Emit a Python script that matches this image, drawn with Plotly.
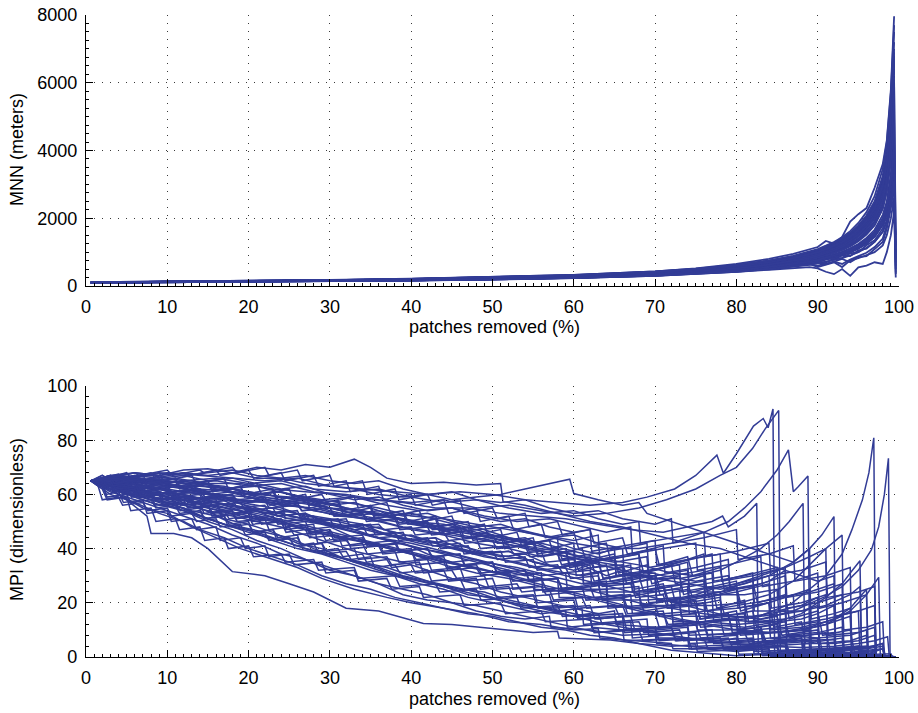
import plotly.graph_objects as go

# ---------------- data: MNN (top panel) ----------------
X_MNN = [0.6, 10, 20, 30, 40, 50, 60, 70, 75, 80, 84, 87, 89, 90, 91, 92, 93, 94, 95, 96, 97, 98, 98.5, 99, 99.4, 99.6]

mnn_01 = [100, 115, 130, 150, 175, 210, 260, 340, 400, 480, 570, 660, 740, 800, 860, 930, 1010, 1100, 1220, 1380, 1600, 2000, 2400, 3200, 4300, None]
mnn_02 = [105, 120, 140, 165, 195, 240, 300, 390, 460, 560, 680, 790, 880, 950, 1030, 1120, 1230, 1370, 1560, 1800, 2150, 2800, 3400, 4600, 6200, None]
mnn_03 = [95, 110, 125, 140, 165, 195, 240, 310, 360, 430, 510, 590, 660, 710, 770, 830, 900, 990, 1100, 1250, 1450, 1800, 2200, 2900, 3800, 900]
mnn_04 = [100, 118, 135, 155, 185, 225, 280, 365, 430, 520, 630, 740, 830, 900, 980, 1070, 1180, 1310, 1480, 1700, 2000, 2600, 3100, 4200, 5600, None]
mnn_05 = [110, 125, 145, 175, 210, 260, 320, 420, 500, 610, 740, 870, 980, 1060, 1150, 1260, 1380, 1540, 1750, 2050, 2450, 3200, 3900, 5300, 7200, None]
mnn_06 = [98, 112, 128, 148, 172, 205, 250, 325, 385, 460, 550, 640, 710, 760, 820, 880, 950, 1040, 1150, 1310, 1520, 1900, 2300, 3000, 4000, None]
mnn_07 = [110, 128, 150, 180, 215, 265, 330, 430, 520, 650, 800, 950, 1080, 1150, 1330, 1250, 1450, 1900, 2120, 2300, 2900, 3600, 4300, 5800, 7965, None]
mnn_08 = [95, 108, 122, 138, 160, 190, 230, 300, 350, 420, 480, 540, 560, 520, 420, 350, 500, 300, 550, 600, 700, 650, 1000, 1500, 2200, 400]
mnn_09 = [100, 115, 132, 152, 180, 215, 265, 345, 410, 495, 600, 700, 790, 850, 910, 990, 1080, 1200, 1350, 1550, 1800, 2300, 2800, 3700, 5000, None]
mnn_10 = [102, 117, 137, 160, 190, 232, 290, 380, 450, 545, 660, 780, 870, 940, 1020, 1110, 1220, 1360, 1540, 1780, 2100, 2700, 3300, 4500, 6000, 1200]
mnn_11 = [97, 111, 127, 146, 170, 202, 248, 320, 378, 452, 540, 625, 690, 740, 790, 850, 920, 1000, 1110, 1260, 1460, 1820, 2150, 2800, 3500, None]
mnn_12 = [100, 116, 134, 156, 186, 222, 276, 360, 425, 512, 620, 720, 810, 870, 940, 1020, 1120, 1240, 1400, 1620, 1920, 2450, 2950, 4000, 5300, None]
mnn_13 = [105, 121, 141, 166, 198, 242, 300, 395, 468, 570, 690, 810, 910, 980, 1060, 1160, 1280, 1430, 1630, 1900, 2260, 2900, 3600, 4900, 6600, None]
mnn_14 = [96, 110, 124, 142, 165, 196, 238, 310, 365, 440, 520, 600, 650, 560, 620, 700, 560, 760, 820, 900, 1000, 1200, 1500, 2000, 2600, 250]
mnn_15 = [100, 114, 130, 150, 176, 210, 258, 335, 395, 475, 570, 665, 745, 800, 860, 930, 1010, 1110, 1240, 1420, 1660, 2100, 2500, 3300, 4500, None]
mnn_16 = [103, 119, 139, 163, 194, 236, 294, 386, 458, 556, 672, 790, 885, 955, 1035, 1130, 1245, 1390, 1580, 1830, 2170, 2800, 3450, 4700, 6400, None]
mnn_17 = [99, 113, 129, 149, 174, 207, 254, 330, 390, 470, 560, 650, 720, 740, 820, 780, 900, 880, 1050, 1100, 1300, 1600, 1900, 2500, 3300, 700]
mnn_18 = [101, 116, 133, 154, 182, 218, 270, 352, 418, 503, 610, 715, 800, 865, 935, 1015, 1110, 1230, 1390, 1600, 1890, 2400, 2900, 3900, 5100, None]
mnn_19 = [104, 120, 140, 164, 196, 238, 296, 390, 462, 562, 680, 800, 895, 965, 1045, 1140, 1260, 1410, 1600, 1860, 2210, 2850, 3500, 4800, 6500, None]
mnn_20 = [97, 111, 126, 145, 168, 200, 244, 316, 372, 450, 530, 610, 680, 690, 640, 720, 800, 700, 850, 880, 1100, 1300, 1700, 2300, 3000, 600]
mnn_21 = [102, 118, 136, 158, 188, 228, 284, 372, 440, 532, 645, 755, 850, 915, 990, 1080, 1190, 1330, 1510, 1750, 2070, 2650, 3200, 4350, 5800, None]
mnn_22 = [108, 124, 145, 172, 206, 254, 316, 415, 494, 600, 728, 855, 960, 1035, 1120, 1225, 1350, 1510, 1720, 2000, 2400, 3100, 3800, 5200, 7000, None]
mnn_23 = [98, 112, 128, 147, 171, 203, 249, 322, 380, 455, 545, 635, 705, 750, 810, 870, 940, 1025, 1140, 1300, 1500, 1850, 2200, 2700, 2100, 1500]
mnn_24 = [106, 122, 143, 169, 202, 248, 308, 405, 480, 583, 705, 830, 930, 1000, 1085, 1185, 1305, 1460, 1660, 1930, 2300, 2980, 3700, 5000, 6800, None]
mnn_25 = [99, 114, 131, 152, 179, 214, 264, 344, 408, 492, 596, 700, 785, 845, 910, 990, 1090, 1210, 1370, 1590, 1880, 2420, 2950, 4000, 5400, None]
mnn_26 = [101, 117, 135, 157, 187, 226, 282, 368, 436, 528, 640, 752, 845, 910, 985, 1075, 1185, 1320, 1500, 1740, 2060, 2650, 3250, 4400, 5900, 800]
mnn_27 = [96, 109, 123, 141, 163, 193, 234, 300, 352, 420, 495, 565, 625, 665, 710, 760, 820, 900, 1000, 1130, 1300, 1600, 1950, 2500, 3200, None]
mnn_28 = [107, 123, 144, 171, 205, 252, 314, 412, 490, 595, 720, 845, 950, 1020, 1105, 1210, 1335, 1490, 1700, 1980, 2360, 3050, 3750, 5100, 6900, None]
mnn_29 = [103, 118, 137, 160, 191, 232, 289, 380, 450, 545, 662, 775, 870, 940, 1015, 1110, 1220, 1355, 1540, 1780, 2110, 2700, 3300, 4500, 6100, None]
mnn_30 = [98, 112, 127, 146, 170, 203, 248, 322, 380, 455, 545, 630, 700, 720, 700, 790, 830, 960, 1000, 1200, 1350, 1700, 2100, 2700, 3600, None]
mnn_31 = [104, 119, 139, 163, 195, 237, 294, 386, 457, 556, 675, 795, 890, 960, 1040, 1135, 1250, 1400, 1590, 1850, 2200, 2840, 3480, 4750, 6400, None]
mnn_32 = [100, 115, 131, 151, 178, 212, 262, 340, 402, 485, 585, 685, 770, 830, 895, 970, 1060, 1170, 1320, 1520, 1790, 2280, 2780, 3700, 4900, 1000]
mnn_33 = [97, 111, 126, 145, 169, 201, 246, 318, 375, 450, 535, 620, 690, 735, 790, 850, 920, 1005, 1120, 1270, 1480, 1850, 2250, 2950, 3900, None]
mnn_34 = [109, 126, 148, 176, 212, 262, 326, 428, 510, 620, 752, 885, 995, 1070, 1160, 1270, 1400, 1570, 1790, 2080, 2500, 3250, 4000, 5500, 7500, None]
mnn_35 = [102, 117, 135, 158, 189, 229, 286, 375, 444, 538, 652, 765, 860, 925, 1000, 1090, 1200, 1340, 1520, 1760, 2080, 2680, 3260, 4420, 5950, None]
mnn_36 = [99, 113, 129, 149, 175, 209, 257, 334, 394, 472, 568, 660, 735, 780, 850, 800, 950, 1000, 1150, 1250, 1500, 1900, 2300, 3100, 4100, 500]
mnn_37 = [105, 121, 141, 166, 199, 243, 302, 398, 472, 575, 697, 820, 920, 990, 1075, 1175, 1295, 1445, 1645, 1910, 2280, 2940, 3620, 4950, 6700, None]
mnn_38 = [101, 116, 134, 156, 185, 223, 277, 362, 429, 518, 628, 735, 826, 890, 962, 1048, 1152, 1280, 1450, 1680, 1990, 2550, 3120, 4220, 5650, None]
mnn_39 = [98, 112, 128, 148, 173, 206, 252, 328, 386, 462, 555, 645, 720, 770, 830, 890, 970, 1060, 1180, 1350, 1570, 1980, 2380, 3100, 4100, None]
mnn_40 = [106, 122, 142, 168, 201, 246, 306, 402, 477, 580, 703, 826, 926, 997, 1080, 1180, 1300, 1455, 1655, 1920, 2290, 2960, 3650, 5000, 6750, None]
mnn_41 = [104, 120, 141, 168, 203, 251, 315, 418, 500, 612, 750, 890, 1010, 1090, 1190, 1300, 1440, 1620, 1860, 2180, 2650, 3450, 4250, 5700, 7700, None]
mnn_42 = [96, 109, 124, 142, 165, 195, 237, 305, 358, 428, 505, 580, 640, 600, 660, 720, 650, 780, 880, 980, 1150, 1400, 1800, 2400, 3100, 350]

MNN_RUNS = [mnn_01, mnn_02, mnn_03, mnn_04, mnn_05, mnn_06, mnn_07, mnn_08, mnn_09, mnn_10,
            mnn_11, mnn_12, mnn_13, mnn_14, mnn_15, mnn_16, mnn_17, mnn_18, mnn_19, mnn_20,
            mnn_21, mnn_22, mnn_23, mnn_24, mnn_25, mnn_26, mnn_27, mnn_28, mnn_29, mnn_30,
            mnn_31, mnn_32, mnn_33, mnn_34, mnn_35, mnn_36, mnn_37, mnn_38, mnn_39, mnn_40,
            mnn_41, mnn_42]

# ---------------- data: MPI (bottom panel), (x %, MPI) pairs ----------------
mpi_f01 = [(0.6,65),(3,62),(5,58),(7.5,52),(8,45.6),(10.8,45.6),(13,44),(15,40),(18,31.5),(22,30),(25,27),(28,24),(32,18),(36,17),(41.5,12.4),(45,12),(50,10.5),(55,9),(58,9.5),(58.2,7),(64.5,6.3),(68,5),(72,2.5),(76,1.5),(80,0.5),(84,1),(84.2,0.2),(99.6,0)]
mpi_f02 = [(0.6,65),(4,60),(7,55),(10,53),(13,48),(16,44),(19,40),(22,37),(26,33),(29,29),(33,25),(37,22),(40,20),(44,18),(48,16),(52,13),(56,12),(60,10),(63,10.5),(63.2,7),(68,6),(72,5),(72.2,3),(76,3),(80,2),(84,3),(84.2,0.5),(90,1),(90.2,0.2),(95,2),(95.2,0.1),(99.6,0)]
mpi_f03 = [(0.6,65),(3,63),(6,60),(9,57),(12,54),(15,50),(18,47),(21,43),(24,40),(27,36),(30,33),(33,30),(36,27),(39,23),(42,21),(45,20),(48,17),(51,15),(54,14),(57,15),(57.2,11),(62,10),(66,8),(70,8.5),(70.2,5),(74,4),(78,3),(81,2.5),(83,4),(83.2,0.5),(88,1),(88.2,0.1),(99.6,0)]
mpi_f04 = [(0.6,65),(4,63),(8,59),(11,58),(14,55),(17,51),(20,49),(23,46),(26,42),(29,40),(32,36),(35,34),(38,30),(41,28),(44,26),(47,23),(50,22),(53,19),(56,17),(60,15),(62,16),(62.2,11),(66,10),(70,11),(70.2,7),(74,7),(78,6),(80,7),(80.2,4),(84,4.5),(86,6),(86.2,1),(92,1.5),(92.2,0.2),(97,2.5),(97.2,0),(99.6,0)]
mpi_f05 = [(0.6,65),(3,64),(6,62),(9,60),(12,56),(15,54),(18,52),(21,50),(24,48),(27,45),(30,42),(33,39),(36,37),(39,35),(42,32),(45,29),(48,27),(51,24),(54,22),(57,20),(60,18),(63,16),(65,17),(65.2,12),(70,11),(74,12),(74.2,8),(78,8.5),(82,9),(82.2,5),(86,5.5),(88,7),(88.2,1),(94,1.5),(94.2,0.2),(99.6,0)]
mpi_f06 = [(0.6,65),(3,61),(6,58),(9,55),(12,52),(15,49),(18,45),(21,42),(24,38),(27,36),(30,32),(33,30),(36,27),(39,25),(42,23),(45,20),(48,19),(51,17),(54,15),(57,13),(60,11),(63,9),(66,10),(66.2,6),(70,6.5),(74,7),(74.2,3),(78,3.5),(82,4),(82.2,1),(87,1.5),(90,2),(90.2,0.3),(96,1.5),(96.2,0),(99.6,0)]
mpi_f07 = [(0.6,65),(4,64),(7,60),(10,57),(13,54),(16,52),(19,48),(22,46),(25,44),(28,40),(31,37),(34,35),(37,33),(40,30),(43,27),(46,25),(49,24),(52,21),(55,19),(58,17),(61,18),(61.2,12),(65,13),(69,14),(69.2,8),(73,9),(77,10),(77.2,5),(81,5.5),(85,6),(85.2,2),(90,2.5),(94,3),(94.2,0.3),(99.6,0)]
mpi_f08 = [(0.6,65),(3,60),(6,57),(9,53),(12,50),(14,47),(17,44),(20,40),(23,37),(26,34),(29,30),(32,27),(35,25),(38,22),(41,20),(44,18),(47,16),(50,15),(53,13),(56,11),(59,10),(62,8),(65,7),(68,5),(72,4),(75,4.5),(75.2,2),(80,2.5),(84,3),(84.2,0.5),(91,1.5),(91.2,0),(99.6,0)]
mpi_f09 = [(0.6,65),(4,62),(8,58),(11,56),(14,52),(17,49),(20,47),(23,43),(26,40),(29,38),(32,35),(35,32),(38,30),(41,27),(44,25),(47,22),(50,20),(53,18),(56,16),(59,17),(59.2,11),(63,12),(67,13),(67.2,7),(71,8),(75,9),(75.2,4),(79,4.5),(83,5),(83.2,1.5),(88,2),(91,2.5),(91.2,0.3),(99.6,0)]
mpi_f10 = [(0.6,65),(3,63),(6,59),(9,56),(12,55),(15,51),(18,48),(21,46),(24,43),(27,40),(30,38),(33,35),(36,33),(39,30),(42,28),(45,26),(48,24),(51,21),(54,19),(57,18),(60,16),(63,14),(66,15),(66.2,9),(70,10),(74,11),(74.2,5),(78,5.5),(82,6),(82.2,2),(87,2.5),(92,3),(92.2,0.5),(96,0.8),(99,1.2),(99.2,0),(99.6,0)]

mpi_m01 = [(0.6,65),(4,66),(8,64),(12,62),(16,60),(20,59),(24,56),(28,55),(32,52),(36,50),(40,47),(44,45),(48,42),(52,40),(56,37),(60,39),(60.3,30),(64,32),(67,34),(67.2,24),(72,26),(76,28),(76.2,17),(80,18),(84,20),(84.2,10),(88,11),(91,13),(93,15),(93.2,1),(99.6,0)]
mpi_m02 = [(0.6,65),(3,65),(7,63),(10,64),(14,61),(18,58),(22,57),(26,53),(30,51),(34,49),(38,46),(42,43),(46,41),(50,38),(54,36),(58,33),(61,35),(61.2,27),(66,27),(70,29),(70.2,21),(74,20),(78,22),(78.2,14),(82,13),(86,14),(86.2,8),(90,7),(94,8),(96,10),(96.2,0.5),(99.6,0)]
mpi_m03 = [(0.6,65),(5,62),(9,60),(13,59),(17,56),(21,54),(25,51),(29,49),(33,46),(37,43),(41,40),(45,38),(49,35),(53,33),(57,30),(61,27),(64,28),(64.2,21),(69,21),(73,22),(73.2,15),(77,15),(81,16),(81.2,9),(85,9),(89,10),(89.2,5),(92,5),(95,6),(97,8),(97.2,0.5),(99.6,0)]
mpi_m04 = [(0.6,65),(3,67),(6,66),(10,65),(14,63),(18,62),(22,60),(26,58),(30,55),(34,54),(38,51),(42,49),(46,46),(50,44),(54,41),(58,39),(62,36),(65,38),(65.2,30),(70,30),(74,32),(74.2,24),(78,24),(82,26),(82.2,17),(85,17),(88,19),(90,22),(90.2,1),(95,3),(95.2,0),(99.6,0)]
mpi_m05 = [(0.6,65),(4,64),(8,61),(12,60),(16,57),(20,55),(24,53),(28,50),(32,47),(36,44),(40,42),(44,39),(48,36),(52,33),(56,30),(59,31),(59.2,25),(64,25),(68,26),(68.2,19),(72,19),(76,20),(76.2,13),(80,12),(84,13),(84.2,7),(88,6),(92,6.5),(92.2,3),(96,3),(98,5),(98.3,0.5),(99.6,0)]
mpi_m06 = [(0.6,65),(3,63),(6,64),(9,62),(13,59),(17,58),(21,55),(25,52),(29,50),(33,48),(37,45),(41,42),(45,40),(49,37),(53,35),(57,32),(61,30),(63,31),(63.2,24),(69,24),(73,25),(73.2,19),(77,19),(81,20),(81.2,13),(85,13),(88,14),(90,16),(92,19),(92.2,0.5),(99.6,0)]
mpi_m07 = [(0.6,65),(5,66),(9,65),(13,64),(17,63),(21,60),(25,59),(29,57),(33,54),(37,52),(41,50),(45,47),(49,45),(53,43),(57,40),(61,37),(65,35),(69,37),(69.2,29),(73,29),(77,31),(77.2,23),(81,23),(85,25),(85.2,17),(88,17),(91,19),(94,23),(95.2,26),(95.4,1),(99.6,0)]
mpi_m08 = [(0.6,65),(4,62),(7,60),(11,57),(15,55),(19,52),(23,50),(27,47),(31,44),(35,42),(39,39),(43,36),(47,33),(51,31),(55,28),(58,29),(58.2,22),(63,22),(67,23),(67.2,16),(71,16),(75,17),(75.2,10),(79,10),(83,11),(83.2,6),(87,6),(90,7),(90.2,3),(93,3),(96,3.5),(98,5),(98.2,0.3),(99.6,0)]
mpi_m09 = [(0.6,65),(3,66),(7,64),(11,63),(15,60),(19,58),(23,57),(27,55),(31,52),(35,51),(39,48),(43,46),(47,44),(51,42),(55,40),(59,37),(63,35),(67,33),(71,30),(75,28),(79,30),(79.3,25),(82,26),(84,28),(86,32),(86.2,1),(92,2),(92.2,0),(99.6,0)]
mpi_m10 = [(0.6,65),(4,63),(8,62),(12,58),(16,56),(20,53),(24,50),(28,47),(32,44),(36,41),(40,38),(44,35),(48,33),(52,30),(55,31),(55.2,25),(60,24),(64,25),(64.2,19),(68,18),(72,19),(72.2,13),(76,13),(80,14),(80.2,9),(84,9),(88,10),(91,12),(94,15),(94.2,0.5),(99.6,0)]
mpi_m11 = [(0.6,65),(3,64),(6,65),(9,63),(12,64),(15,61),(18,62),(21,59),(24,57),(27,58),(30,55),(33,53),(36,54),(39,50),(42,48),(45,49),(48,45),(51,43),(54,44),(57,40),(60,42),(60.2,34),(64,36),(68,38),(68.2,28),(72,30),(76,32),(76.2,22),(80,24),(84,27),(84.2,15),(88,17),(90,19),(90.2,1),(99.6,0)]
mpi_m12 = [(0.6,65),(4,62),(7,63),(10,60),(13,58),(16,59),(19,55),(22,53),(25,54),(28,50),(31,48),(34,49),(37,45),(40,43),(43,44),(46,40),(49,38),(52,39),(55,35),(58,33),(61,34),(64,30),(66,32),(66.2,22),(70,24),(74,26),(74.2,16),(78,18),(82,20),(82.2,10),(86,11),(90,13),(90.2,5),(94,6),(96,8),(96.2,0.5),(99.6,0)]
mpi_m13 = [(0.6,65),(3,66),(6,64),(9,65),(12,62),(15,60),(18,61),(21,58),(24,56),(27,57),(30,54),(33,52),(36,50),(39,51),(42,48),(45,46),(48,47),(51,44),(54,42),(57,43),(60,40),(63,38),(65,40),(65.2,30),(69,32),(73,34),(73.2,24),(77,26),(80,28),(80.2,18),(84,20),(87,23),(87.2,12),(91,14),(95,17),(95.2,1),(99.6,0)]
mpi_m14 = [(0.6,65),(4,64),(8,62),(12,63),(16,60),(20,57),(24,58),(28,54),(32,52),(36,53),(40,50),(44,47),(48,48),(52,44),(55,42),(58,44),(58.2,36),(62,38),(66,40),(66.2,30),(70,32),(74,35),(74.2,26),(78,28),(82,31),(82.2,20),(86,22),(89,25),(89.2,14),(92,16),(94,18),(94.2,1),(99.6,0)]
mpi_m15 = [(0.6,65),(3,63),(6,61),(9,62),(12,59),(15,57),(18,58),(21,54),(24,52),(27,53),(30,49),(33,47),(36,48),(39,44),(42,42),(45,43),(48,39),(51,37),(54,38),(57,34),(60,32),(62,34),(62.2,26),(66,28),(70,30),(70.2,20),(74,22),(78,24),(78.2,14),(82,15),(86,17),(86.2,8),(90,9),(93,11),(93.2,3),(97,4),(97.2,0.5),(99.6,0)]
mpi_m16 = [(0.6,65),(4,65),(8,63),(12,61),(16,62),(20,59),(24,57),(28,58),(32,55),(36,52),(40,53),(44,50),(48,47),(52,48),(56,45),(60,43),(63,45),(63.2,36),(67,38),(71,41),(71.2,31),(75,33),(79,36),(79.2,25),(83,27),(86,30),(86.2,18),(90,20),(93,23),(93.2,10),(96,11),(98,13),(98.2,0.5),(99.6,0)]
mpi_m17 = [(0.6,65),(3,62),(6,60),(9,58),(12,59),(15,55),(18,53),(21,54),(24,50),(27,47),(30,48),(33,44),(36,41),(39,42),(42,38),(45,35),(48,36),(51,32),(54,30),(56,31),(56.2,24),(60,25),(64,27),(64.2,18),(68,19),(72,21),(72.2,12),(76,13),(80,14),(80.2,6),(84,7),(88,8),(88.2,2),(93,3),(95,4),(95.2,0.3),(99.6,0)]
mpi_m18 = [(0.6,65),(5,66),(9,64),(13,65),(17,62),(21,63),(25,60),(29,58),(33,59),(37,56),(41,54),(45,55),(49,52),(53,50),(57,51),(61,48),(64,46),(67,48),(67.2,38),(71,40),(75,42),(75.2,32),(79,34),(83,37),(83.2,26),(87,28),(90,31),(90.2,18),(93,20),(96,23),(96.2,1),(99.6,0)]
mpi_m19 = [(0.6,65),(4,61),(8,58),(12,56),(16,57),(20,53),(24,50),(28,51),(32,47),(36,44),(40,45),(44,41),(48,38),(52,39),(55,35),(58,33),(61,35),(61.2,27),(65,28),(69,30),(69.2,20),(73,21),(77,23),(77.2,13),(81,14),(85,16),(85.2,7),(89,8),(92,9),(92.2,2),(96,3),(98,4),(98.2,0.3),(99.6,0)]
mpi_m20 = [(0.6,65),(3,64),(6,66),(9,64),(12,63),(15,64),(18,61),(21,60),(24,61),(27,58),(30,56),(33,57),(36,54),(39,52),(42,53),(45,50),(48,48),(51,49),(54,46),(57,44),(60,45),(63,42),(66,40),(69,42),(69.2,33),(73,35),(77,38),(77.2,28),(81,30),(85,33),(85.2,22),(89,24),(92,27),(92.2,15),(95,17),(97,19),(97.2,0.5),(99.6,0)]

mpi_u01 = [(0.6,65),(3,67),(6,68),(9,67),(12,69),(15,69.5),(18,68),(21,70),(24,69),(27,71),(30,70),(33,73),(35,70),(37,66),(40,64),(44,64.5),(48,63.5),(51,64),(51.3,57.3),(54,56),(58,53),(62,50),(66,48),(70,45),(74,42),(78,40),(82,36),(86,32),(90,28),(92,30),(92.2,1),(99.6,0)]
mpi_u02 = [(0.6,65),(3,66),(6,67),(10,68),(14,67),(18,66),(22,65),(26,66),(30,63),(34,62),(38,61),(42,60),(46,61),(50,60),(54,58),(58,57),(62,56),(66,57),(69,59),(72.4,62),(75,67),(77.6,74.5),(78.4,67.8),(80,75),(82.1,85.2),(83.3,88),(83.9,84.6),(84.5,91.5),(84.7,1),(90,0.5),(99.6,0)]
mpi_u03 = [(0.6,65),(4,64),(8,66),(12,64),(16,65),(20,63),(24,64),(28,61),(32,60),(36,58),(40,57),(44,58),(48,55),(52,56),(56,54),(60,52),(64,53),(68,55),(71.4,58),(75,62),(78,67),(80,70),(82,77),(83.5,84),(85.2,91),(85.4,1),(92,0.5),(99.6,0)]
mpi_u04 = [(0.6,65),(4,66),(8,64),(12,65),(16,62),(20,60),(24,61),(28,58),(32,57),(36,55),(40,52),(44,51),(48,49),(52,47),(56,45),(60,42),(64,40),(68,40),(72,42),(76,46),(79,50),(81,55),(83,61),(85,69),(86.4,76.4),(87,61),(87.6,62.8),(88.8,66.8),(89,1),(95,0.5),(99.6,0)]
mpi_u05 = [(0.6,65),(3,66),(7,65),(11,66),(15,64),(19,64),(23,62),(27,61),(31,60),(35,58),(39,57),(43,55),(47,55),(51,53),(55,52),(59,51),(63,49),(67,47),(71,46),(74,48),(77,50),(78.3,52),(79,48),(81,52),(82.5,56.7),(82.7,1),(90,0.5),(99.6,0)]
mpi_u06 = [(0.6,65),(4,64),(8,65),(12,63),(16,63),(20,61),(24,59),(28,58),(32,55),(36,53),(40,50),(44,49),(48,46),(52,44),(56,42),(60,39),(64,36),(68,34),(72,31),(75,30),(78,32),(80,35),(83,40),(85,45),(86.5,50),(88.2,56.7),(88.4,1),(95,0.3),(99.6,0)]
mpi_u07 = [(0.6,65),(3,64),(6,66),(10,64),(14,62),(18,61),(22,59),(26,57),(30,55),(34,52),(38,50),(42,48),(46,45),(50,43),(54,40),(58,38),(62,35),(66,32),(70,29),(74,27),(78,25),(81,27),(84,30),(87,35),(89,40),(90.5,45),(92,51.8),(92.2,1),(99.6,0)]
mpi_u08 = [(0.6,65),(4,63),(8,61),(12,60),(16,57),(20,55),(24,53),(28,50),(32,48),(36,44),(40,41),(44,38),(48,35),(52,32),(56,29),(60,26),(64,23),(68,20),(72,18),(76,16),(79,15),(82.7,14.9),(86.8,19.8),(90.9,29.6),(93,38),(94.2,46.9),(95.5,58),(96.3,68),(96.9,80.9),(97.1,0.5),(99.6,0)]
mpi_u09 = [(0.6,65),(3,65),(7,63),(11,61),(15,60),(19,57),(23,55),(27,52),(31,50),(35,47),(39,44),(43,42),(47,39),(51,36),(55,33),(59,30),(63,27),(67,24),(71,21),(75,18),(79,15),(83,14),(87,17),(90.9,22.3),(93,26),(95,32),(96.6,39.5),(97.5,48),(98.2,60),(98.7,73.3),(98.9,0.5),(99.6,0)]
mpi_u10 = [(0.6,65),(5,62),(9,60),(13,57),(17,55),(21,53),(25,50),(29,47),(33,44),(37,41),(41,38),(45,35),(49,32),(53,29),(57,26),(61,23),(65,20),(69,17),(73,14),(77,12),(81,11),(85,13),(88,16),(91,22),(93,27),(94,31),(95.2,35.5),(95.4,0.5),(99.6,0)]
mpi_u11 = [(0.6,65),(4,63),(8,60),(12,58),(16,55),(20,52),(24,50),(28,46),(32,44),(36,41),(40,38),(44,34),(48,31),(52,29),(56,26),(60,23),(64,20),(68,17),(72,14),(76,12),(80,10),(84,9),(88,10),(91,12),(94,17),(96,23),(97.5,29.4),(97.7,0.5),(99.6,0)]
mpi_u12 = [(0.6,65),(4,61),(8,57),(12,54),(16,50),(20,46),(24,43),(28,39),(32,36),(36,32),(40,29),(44,26),(48,23),(52,20),(56,18),(60,15),(64,12),(68,10),(72,8),(76,6),(80,5),(84,4),(88,3.5),(92,4),(95,5),(97,6),(98.6,7.5),(98.8,0.3),(99.6,0)]
mpi_u13 = [(0.6,65),(3,66),(6,68),(9,67),(12,68),(15,67),(18,68),(21,66),(24,66),(27,64),(30,63),(33,62),(36,60),(39,59),(42,60),(45,58),(48,59),(51,60),(54,62),(57,64),(59.5,65.6),(60,60.3),(63,58),(66,56),(68,57),(69,53),(72,50),(76,46),(80,42),(84,38),(87,35),(89,40),(89.2,1),(99.6,0)]
mpi_u14 = [(0.6,65),(3,67),(6,66),(9,68),(12,67),(15,68),(18,69),(21,67),(24,66),(27,67),(30,65),(33,64),(36,65),(39,62),(42,60),(45,61),(48,58),(51,57),(54,58),(57,55),(60,53),(63,54),(66,51),(70,49),(72,51),(72.2,42),(76,44),(80,47),(80.2,36),(84,38),(87,41),(87.2,28),(91,30),(94,33),(94.2,1),(99.6,0)]
mpi_u15 = [(0.6,65),(4,66),(8,67),(12,65),(16,66),(20,64),(24,65),(28,62),(32,61),(36,62),(40,59),(44,57),(48,58),(52,55),(56,53),(60,54),(63,51),(66,49),(68,50),(68.2,42),(72,44),(76,46),(76.2,37),(80,39),(84,42),(84.2,30),(88,32),(91,35),(91.2,22),(95,24),(97,26),(97.2,0.5),(99.6,0)]
mpi_u16 = [(0.6,65),(3,65),(6,67),(9,66),(12,67),(15,65),(18,66),(21,64),(24,62),(27,63),(30,60),(33,58),(36,59),(39,56),(42,54),(45,55),(48,52),(51,50),(54,51),(57,48),(60,46),(62,47),(62.2,39),(66,41),(70,43),(70.2,34),(74,36),(78,38),(78.2,28),(82,30),(86,33),(86.2,22),(90,24),(93,27),(93.2,1),(99.6,0)]

mpi_j01 = [(0.6,65),(2,66),(2.6,63),(5,64),(5.6,60),(8,61),(8.5,58),(11,59),(11.6,56),(14,57),(14.5,53),(17,54),(17.6,51),(20,52),(20.5,49),(24,50),(24.6,46),(27,47),(27.5,44),(31,45),(31.5,41),(34,42),(34.6,38),(38,39),(38.5,35),(42,36),(42.5,32),(46,33),(46.6,28),(50,29),(50.5,25),(55,26),(55.5,20),(60,21),(60.5,15),(66,16),(66.5,10),(72,11),(72.5,6),(78,7),(78.4,3),(85,4),(85.2,1),(92,1.5),(92.2,0.2),(95,2),(95.2,0.2),(98,3),(98.2,0),(99.6,0)]
mpi_j02 = [(0.6,65),(3,67),(3.5,65),(7,67),(7.6,64),(11,66),(11.5,63),(15,65),(15.6,61),(19,63),(19.5,60),(23,62),(23.6,58),(27,60),(27.5,56),(31,58),(31.6,54),(35,56),(35.5,52),(39,54),(39.6,50),(43,52),(43.5,48),(47,50),(47.6,45),(51,47),(51.5,42),(55,44),(55.6,38),(59,40),(59.5,34),(63,36),(63.6,29),(67,31),(67.5,24),(71,26),(71.6,19),(75,21),(75.5,14),(79,16),(79.5,9),(83,10),(83.6,5),(88,6),(88.5,2),(94,3),(94.2,0.3),(99.6,0)]
mpi_j03 = [(0.6,65),(2,64),(2.5,60),(4,61),(4.6,57),(7,58),(7.5,53),(10,54),(10.5,50),(13,51),(13.6,47),(16,48),(16.5,43),(19,44),(19.6,40),(22,41),(22.5,37),(25,38),(25.6,34),(29,35),(29.5,31),(33,32),(33.5,28),(37,29),(37.6,25),(41,26),(41.5,22),(46,23),(46.5,19),(51,20),(51.6,16),(56,17),(56.5,13),(62,14),(62.5,9),(68,10),(68.5,6),(74,7),(74.5,3),(80,4),(80.3,1),(88,1.5),(88.2,0.2),(93,2.5),(93.2,0),(99.6,0)]
mpi_j04 = [(0.6,65),(3,66),(3.6,62),(6,63),(6.5,60),(9,61),(9.6,58),(13,59),(13.5,55),(16,56),(16.6,54),(20,55),(20.5,51),(23,52),(23.6,49),(27,50),(27.5,46),(30,47),(30.6,44),(34,45),(34.5,42),(38,43),(38.6,39),(42,40),(42.5,37),(46,38),(46.6,34),(50,35),(50.5,31),(54,32),(54.6,28),(58,29),(58.5,25),(63,27),(63.5,21),(68,23),(68.6,17),(73,19),(73.5,12),(78,14),(78.5,8),(83,9),(83.5,4),(89,5),(89.3,1),(95,1.5),(95.2,0.2),(99.6,0)]
mpi_j05 = [(0.6,65),(2,67),(2.5,66),(5,68),(5.5,66),(9,68),(9.5,65),(13,67),(13.6,64),(17,66),(17.5,62),(21,64),(21.6,60),(25,62),(25.5,58),(29,60),(29.6,57),(33,59),(33.5,55),(37,57),(37.6,52),(41,54),(41.5,50),(45,52),(45.6,47),(49,49),(49.5,44),(53,46),(53.6,41),(57,43),(57.5,38),(61,40),(61.6,35),(65,37),(65.5,31),(69,34),(69.6,27),(73,30),(73.5,23),(77,26),(77.6,18),(81,21),(81.5,13),(85,15),(85.6,8),(90,10),(90.5,3),(95,4),(95.5,0.5),(99.6,0)]
mpi_j06 = [(0.6,65),(3,64),(3.5,61),(6,62),(6.6,59),(9,60),(9.5,56),(12,57),(12.6,55),(15,56),(15.5,52),(18,53),(18.6,50),(22,51),(22.5,47),(25,48),(25.6,45),(29,46),(29.5,43),(32,44),(32.6,40),(36,41),(36.5,38),(40,39),(40.6,36),(44,37),(44.5,33),(48,34),(48.6,31),(52,32),(52.5,28),(56,29),(56.6,25),(61,26),(61.5,21),(66,22),(66.6,16),(71,17),(71.5,11),(76,12),(76.6,6),(82,7),(82.5,2),(90,3),(90.2,0.3),(97,2),(97.2,0),(99.6,0)]
mpi_j07 = [(0.6,65),(2,66),(4,67.5),(4.6,66),(8,68),(8.5,66),(12,68),(12.6,67),(16,69),(16.5,67),(20,69),(20.6,66),(24,68),(24.5,65),(28,67),(28.6,63),(32,65),(32.5,61),(36,63),(36.6,58),(40,60),(40.5,56),(44,58),(44.6,53),(48,55),(48.5,50),(52,52),(52.6,47),(56,49),(56.5,44),(60,46),(60.6,40),(64,42),(64.5,36),(68,38),(68.6,31),(72,34),(72.5,27),(76,30),(76.6,22),(80,25),(80.5,17),(84,20),(84.6,11),(88,13),(88.5,5),(93,7),(93.3,0.5),(99.6,0)]
mpi_j08 = [(0.6,65),(2,63),(2.6,59),(5,60),(5.5,57),(8,58),(8.6,55),(11,56),(11.5,53),(14,54),(14.6,51),(17,52),(17.5,48),(20,49),(20.6,46),(23,47),(23.5,43),(26,44),(26.6,41),(29,42),(29.5,38),(32,39),(32.6,36),(35,37),(35.5,33),(38,34),(38.6,31),(42,32),(42.5,28),(46,29),(46.6,25),(50,26),(50.5,22),(55,23),(55.6,18),(60,19),(60.5,14),(65,15),(65.6,10),(70,11),(70.5,6),(76,7),(76.5,3),(83,4),(83.3,1),(90,1.5),(90.2,0.2),(99.6,0)]
mpi_j09 = [(0.6,65),(3,66),(3.5,64),(7,65),(7.6,62),(10,63),(10.5,61),(14,62),(14.6,59),(18,60),(18.5,58),(22,59),(22.6,56),(26,57),(26.5,54),(30,55),(30.6,52),(34,53),(34.5,50),(38,51),(38.6,47),(42,48),(42.5,45),(46,46),(46.6,42),(50,43),(50.5,40),(54,41),(54.6,37),(58,38),(58.5,34),(62,36),(62.6,31),(66,33),(66.5,27),(70,29),(70.6,23),(74,25),(74.5,19),(78,21),(78.6,15),(82,17),(82.5,11),(86,13),(86.6,7),(91,9),(91.5,3),(96,4),(96.3,0.5),(99.6,0)]
mpi_j10 = [(0.6,65),(1.5,63),(2,58),(4,59),(4.5,56),(7,57),(7.6,54),(10,55),(10.5,52),(13,53),(13.6,50),(16,51),(16.5,48),(19,49),(19.6,45),(22,46),(22.5,43),(25,44),(25.6,41),(28,42),(28.5,39),(31,40),(31.6,37),(34,38),(34.5,35),(37,36),(37.6,33),(40,34),(40.5,31),(44,32),(44.6,28),(48,29),(48.5,25),(52,26),(52.6,22),(57,23),(57.5,18),(62,19),(62.6,14),(67,15),(67.5,10),(72,11),(72.6,6),(78,7),(78.5,3),(85,3.5),(85.3,0.8),(92,1.2),(92.2,0.1),(99.6,0)]
mpi_j11 = [(0.6,65),(3,66),(3.5,64),(6,65),(6.6,62),(10,63),(10.5,61),(14,62),(14.6,59),(18,60),(18.5,57),(22,58),(24,59),(24.5,51),(28,52),(28.6,50),(32,51),(32.5,48),(36,49),(36.6,47),(40,48),(40.5,45),(44,46),(44.6,43),(48,44),(48.5,40),(52,41),(52.6,38),(56,39),(56.5,35),(60,36),(60.6,32),(64,34),(64.5,28),(68,30),(68.6,24),(72,26),(72.5,20),(76,22),(76.6,15),(80,17),(80.5,10),(85,12),(85.5,5),(90,6),(90.5,1),(96,2),(96.2,0.2),(99.6,0)]
mpi_j12 = [(0.6,65),(2,66),(2.6,63),(6,64),(6.5,61),(10,62),(10.6,60),(14,61),(14.5,58),(18,59),(18.6,57),(22,58),(22.5,55),(26,56),(26.6,54),(30,55),(30.5,52),(34,53),(34.6,51),(38,52),(38.5,49),(42,50),(42.6,47),(46,48),(46.5,44),(50,45),(50.6,42),(54,43),(54.5,39),(58,40),(58.6,36),(62,37),(62.5,33),(66,34),(66.6,30),(70,31),(70.5,26),(74,27),(74.6,22),(78,24),(80,26),(80.5,20),(84,23),(87,28),(89,34),(91,40),(91.2,1),(99.6,0)]
mpi_j13 = [(0.6,65),(3,63),(3.6,61),(6,62),(6.5,59),(9,60),(9.6,57),(12,58),(12.5,55),(15,56),(15.6,53),(18,54),(18.5,51),(21,52),(21.6,49),(24,50),(24.5,47),(27,48),(27.6,45),(30,46),(30.5,43),(34,44),(34.6,41),(38,42),(38.5,39),(42,40),(42.6,37),(46,38),(46.5,34),(50,35),(50.6,31),(54,32),(54.5,28),(58,29),(58.6,25),(62,26),(62.5,22),(66,23),(66.6,18),(70,19),(70.5,15),(75,16),(75.6,11),(80,12),(80.5,8),(85,9),(89,11),(92,14),(94,18),(96,25),(96.2,0.5),(99.6,0)]
mpi_j14 = [(0.6,65),(4,66),(4.5,60),(8,61),(8.6,58),(12,59),(12.5,57),(16,58),(16.6,52),(20,53),(20.5,50),(24,51),(24.6,48),(28,49),(28.5,42),(32,43),(32.6,41),(36,42),(36.5,39),(40,40),(40.6,34),(44,35),(44.5,32),(48,33),(48.6,30),(52,31),(52.5,25),(56,26),(56.6,23),(60,24),(60.5,18),(65,19),(65.6,15),(70,16),(70.5,11),(75,12),(75.6,7),(80,8),(80.5,4),(86,5),(86.5,1),(93,1.5),(93.2,0.2),(99.6,0)]
mpi_j15 = [(0.6,65),(2,67),(2.6,66),(6,68),(6.5,67),(10,69),(10.6,67),(14,69),(14.5,68),(18,70),(18.6,68),(22,70),(22.5,67),(26,69),(26.6,65),(30,67),(30.5,63),(34,65),(34.6,60),(38,62),(38.5,58),(42,60),(42.6,56),(46,58),(46.5,53),(50,55),(50.6,51),(54,53),(54.5,48),(58,50),(58.6,45),(62,47),(62.5,42),(66,44),(66.6,38),(70,40),(70.5,34),(74,37),(74.6,30),(78,33),(78.5,25),(82,28),(82.6,20),(86,23),(86.5,14),(90,17),(90.6,8),(94,10),(94.5,2),(98,3),(98.2,0.3),(99.6,0)]
mpi_j16 = [(0.6,65),(2,64),(2.5,62),(5,63),(5.6,59),(8,60),(8.5,56),(11,57),(11.6,54),(14,55),(14.5,51),(17,52),(17.6,49),(20,50),(20.5,46),(23,47),(23.6,44),(26,45),(26.5,41),(29,42),(29.6,39),(33,40),(33.5,36),(37,37),(37.6,34),(41,35),(41.5,31),(45,32),(45.6,29),(49,30),(49.5,26),(53,27),(53.6,24),(57,25),(57.5,21),(61,22),(61.6,18),(66,19),(66.5,15),(71,16),(71.6,12),(76,13),(76.5,8),(81,9),(81.6,5),(86,6),(86.5,2),(92,3),(92.3,0.3),(97,1.5),(97.2,0),(99.6,0)]
mpi_j17 = [(0.6,65),(3,65),(3.6,62),(7,63),(7.5,60),(11,61),(11.6,58),(15,59),(15.5,56),(19,57),(19.6,54),(23,55),(23.5,52),(27,53),(27.6,50),(31,51),(31.5,48),(35,49),(35.6,45),(39,46),(39.5,43),(43,44),(43.6,40),(47,41),(47.5,38),(51,39),(51.6,35),(55,36),(55.5,32),(59,33),(59.6,29),(63,30),(63.5,26),(67,27),(67.6,22),(71,23),(71.5,18),(75,19),(75.6,14),(79,15),(79.5,10),(83,11),(83.6,6),(88,7),(88.5,2),(94,2.5),(94.3,0.3),(99.6,0)]
mpi_j18 = [(0.6,65),(2,62),(2.6,58),(5,59),(5.5,54),(8,55),(8.6,50),(11,51),(11.5,47),(14,48),(14.6,43),(17,44),(17.5,40),(20,41),(20.6,37),(24,38),(24.5,35),(28,36),(28.6,32),(33,33),(33.5,29),(38,30),(38.6,26),(43,27),(43.5,24),(48,25),(48.6,21),(53,22),(53.5,18),(58,19),(58.6,15),(63,16),(63.5,12),(68,13),(68.6,9),(73,10),(73.5,6),(79,7),(79.6,3),(86,4),(86.3,1),(93,1.5),(93.2,0.2),(99.6,0)]
mpi_j19 = [(0.6,65),(3,66),(3.5,64),(7,66),(7.6,63),(11,65),(11.5,62),(15,64),(15.6,61),(19,63),(19.5,59),(23,61),(23.6,57),(27,59),(27.5,55),(31,57),(31.6,53),(35,55),(35.5,51),(39,53),(39.6,49),(43,51),(43.5,46),(47,48),(47.6,43),(51,45),(51.5,40),(55,42),(55.6,37),(59,39),(59.5,33),(63,35),(63.6,29),(67,31),(67.5,25),(71,27),(71.6,21),(75,23),(77,25),(80,27),(83,30),(86,33),(89,37),(91,40),(93,45),(93.2,1),(99.6,0)]
mpi_j20 = [(0.6,65),(2,65),(2.6,63),(6,64),(6.5,61),(10,62),(10.6,59),(14,60),(14.5,57),(18,58),(18.6,55),(22,56),(22.5,53),(26,54),(26.6,50),(30,51),(30.5,48),(34,49),(34.6,45),(38,46),(38.5,43),(42,44),(42.6,41),(46,42),(46.5,38),(50,39),(50.6,36),(54,37),(54.5,33),(58,34),(58.6,31),(62,32),(62.5,28),(66,30),(70,32),(73,35),(76,38),(76.3,25),(80,27),(84,30),(84.3,18),(88,20),(91,23),(91.3,8),(95,9),(97,11),(97.2,0.5),(99.6,0)]

MPI_RUNS = [mpi_f01, mpi_f02, mpi_f03, mpi_f04, mpi_f05, mpi_f06, mpi_f07, mpi_f08, mpi_f09, mpi_f10,
            mpi_m01, mpi_m02, mpi_m03, mpi_m04, mpi_m05, mpi_m06, mpi_m07, mpi_m08, mpi_m09, mpi_m10,
            mpi_m11, mpi_m12, mpi_m13, mpi_m14, mpi_m15, mpi_m16, mpi_m17, mpi_m18, mpi_m19, mpi_m20,
            mpi_u01, mpi_u02, mpi_u03, mpi_u04, mpi_u05, mpi_u06, mpi_u07, mpi_u08, mpi_u09, mpi_u10,
            mpi_u11, mpi_u12, mpi_u13, mpi_u14, mpi_u15, mpi_u16,
            mpi_j01, mpi_j02, mpi_j03, mpi_j04, mpi_j05, mpi_j06, mpi_j07, mpi_j08, mpi_j09, mpi_j10,
            mpi_j11, mpi_j12, mpi_j13, mpi_j14, mpi_j15, mpi_j16, mpi_j17, mpi_j18, mpi_j19, mpi_j20]

X_TICKS = [0, 10, 20, 30, 40, 50, 60, 70, 80, 90, 100]
MNN_TICKS = [0, 2000, 4000, 6000, 8000]
MPI_TICKS = [0, 20, 40, 60, 80, 100]

X_TITLE = "patches removed (%)"
MNN_TITLE = "MNN (meters)"
MPI_TITLE = "MPI (dimensionless)"

# ---------------- figure ----------------
W, H = 918, 713
LINE_COLOR = "#323c96"
FONT = "Liberation Sans, Arial, Helvetica, sans-serif"

def fx(px):
    return px / W

def fy(py):
    return 1 - py / H

fig = go.Figure()
for run in MNN_RUNS:
    fig.add_trace(go.Scatter(x=X_MNN, y=run, mode="lines", xaxis="x", yaxis="y",
                             line=dict(color=LINE_COLOR, width=1.8), showlegend=False,
                             hoverinfo="skip"))
for run in MPI_RUNS:
    fig.add_trace(go.Scatter(x=[p[0] for p in run], y=[p[1] for p in run], mode="lines",
                             xaxis="x2", yaxis="y2",
                             line=dict(color=LINE_COLOR, width=1.5), showlegend=False,
                             hoverinfo="skip"))

tickfont = dict(family=FONT, size=18, color="black")
common = dict(ticks="inside", ticklen=7, tickwidth=1, tickcolor="black",
              showline=True, linecolor="black", linewidth=1.3,
              showgrid=True, gridcolor="#3a3a3a", gridwidth=1, griddash="1px,7px",
              zeroline=False, tickfont=tickfont, automargin=False, fixedrange=True,
              ticklabelstandoff=4)

xdom = [fx(86), fx(899)]
fig.update_layout(
    width=W, height=H,
    margin=dict(l=0, r=0, t=0, b=0),
    paper_bgcolor="white", plot_bgcolor="white",
    xaxis=dict(domain=xdom, range=[0, 100], tickvals=X_TICKS, anchor="y",
               minor=dict(ticks="inside", ticklen=3, dtick=1, tick0=0, tickcolor="black", showgrid=False),
               **common),
    yaxis=dict(domain=[fy(286), fy(15)], range=[0, 8000], tickvals=MNN_TICKS, anchor="x",
               minor=dict(ticks="inside", ticklen=3, dtick=250, tick0=0, tickcolor="black", showgrid=False),
               **common),
    xaxis2=dict(domain=xdom, range=[0, 100], tickvals=X_TICKS, anchor="y2",
                minor=dict(ticks="inside", ticklen=3, dtick=1, tick0=0, tickcolor="black", showgrid=False),
                **common),
    yaxis2=dict(domain=[fy(657), fy(386)], range=[0, 100], tickvals=MPI_TICKS, anchor="x2",
                minor=dict(ticks="inside", ticklen=3, dtick=4, tick0=0, tickcolor="black", showgrid=False),
                **common),
    annotations=[
        dict(text=X_TITLE, x=fx(494), y=fy(327), xref="paper", yref="paper", showarrow=False,
             xanchor="center", yanchor="middle", font=dict(family=FONT, size=18, color="black")),
        dict(text=X_TITLE, x=fx(494), y=fy(699), xref="paper", yref="paper", showarrow=False,
             xanchor="center", yanchor="middle", font=dict(family=FONT, size=18, color="black")),
        dict(text=MNN_TITLE, x=fx(17), y=fy(150), xref="paper", yref="paper", showarrow=False,
             textangle=-90, xanchor="center", yanchor="middle", font=dict(family=FONT, size=18, color="black")),
        dict(text=MPI_TITLE, x=fx(17), y=fy(520), xref="paper", yref="paper", showarrow=False,
             textangle=-90, xanchor="center", yanchor="middle", font=dict(family=FONT, size=18, color="black")),
    ],
)

fig.write_html("out.html")
